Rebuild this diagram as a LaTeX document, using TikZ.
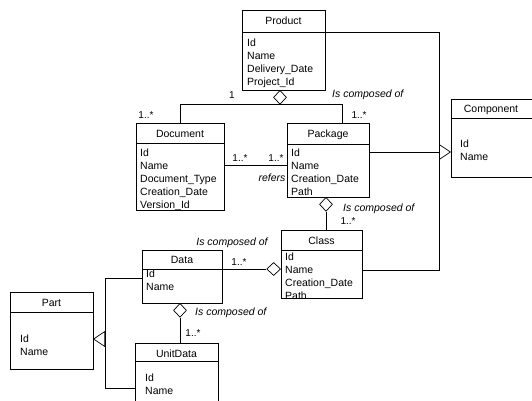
\documentclass[tikz,border=0pt]{standalone}
\usepackage{fontspec}
\setmainfont{Liberation Sans}
\usetikzlibrary{shapes.geometric,arrows.meta,calc}
\begin{document}
\begin{tikzpicture}[x=1pt,y=-1pt,
  cls/.style={draw, line width=0.7pt, anchor=north west, inner sep=0pt, outer sep=0pt},
  ttl/.style={font=\fontsize{10.5}{13}\selectfont, inner sep=0pt, anchor=base},
  att/.style={font=\fontsize{10.5}{13}\selectfont, align=left, anchor=north west, inner sep=0pt},
  mult/.style={font=\fontsize{10}{12}\selectfont, inner sep=0pt},
  lbl/.style={font=\fontsize{10.5}{13}\selectfont\itshape, inner sep=0pt},
  agg/.style={draw, diamond, aspect=1, minimum width=13pt, minimum height=14pt, inner sep=0pt, fill=white, line width=0.7pt},
  aggh/.style={draw, diamond, aspect=1, minimum width=14pt, minimum height=13pt, inner sep=0pt, fill=white, line width=0.7pt},
  conn/.style={line width=0.7pt},
  inh/.style={line width=0.7pt, -{Triangle[open,length=12pt,width=16pt]}}]

\useasboundingbox (0,0) rectangle (532,400);
\clip (0,0) rectangle (532,400);

% ---- Product
\node[cls, minimum width=83pt, minimum height=80pt] (product) at (242,10) {};
\draw[conn] (242,32) -- (325,32);
\node[ttl] (productT) at (283.5,24.8) {Product};
\node[att] (productA) at (247,38.2) {Id\\Name\\Delivery\_Date\\Project\_Id};

% ---- Document
\node[cls, minimum width=88pt, minimum height=87pt] (document) at (136,123) {};
\draw[conn] (136,143) -- (224,143);
\node[ttl] (documentT) at (180,137) {Document};
\node[att] (documentA) at (140,148.2) {Id\\Name\\Document\_Type\\Creation\_Date\\Version\_Id};

% ---- Package
\node[cls, minimum width=82pt, minimum height=74pt] (package) at (287,123) {};
\draw[conn] (287,144) -- (369,144);
\node[ttl] (packageT) at (328,137.8) {Package};
\node[att] (packageA) at (291,148.2) {Id\\Name\\Creation\_Date\\Path};

% ---- Component
\node[cls, minimum width=90pt, minimum height=78pt] (component) at (451,99) {};
\draw[conn] (451,118) -- (541,118);
\node[ttl] (componentT) at (491,112.8) {Component};
\node[att] (componentA) at (460,139.2) {Id\\Name};

% ---- Class
\node[cls, minimum width=81pt, minimum height=68pt] (class) at (281,230) {};
\draw[conn] (281,250) -- (362,250);
\node[ttl] (classT) at (321.5,244.5) {Class};
\node[att] (classA) at (285,252.2) {Id\\Name\\Creation\_Date\\Path};

% ---- Data
\node[cls, minimum width=80pt, minimum height=53pt] (data) at (142,250) {};
\draw[conn] (142,269) -- (222,269);
\node[ttl] (dataT) at (182,263.5) {Data};
\node[att] (dataA) at (146,269.2) {Id\\Name};

% ---- Part
\node[cls, minimum width=83pt, minimum height=77pt] (part) at (10,292) {};
\draw[conn] (10,312) -- (93,312);
\node[ttl] (partT) at (51.5,306) {Part};
\node[att] (partA) at (20,334.2) {Id\\Name};

% ---- UnitData
\node[cls, minimum width=83pt, minimum height=70pt] (unitdata) at (135,343) {};
\draw[conn] (135,361) -- (218,361);
\node[ttl] (unitdataT) at (176.5,357) {UnitData};
\node[att] (unitdataA) at (145,373.2) {Id\\Name};

% ---- Product composition
\node[agg, anchor=north] (d1) at (280,90) {};
\draw[conn] (document.north) |- (d1.south);
\draw[conn] (d1.south) -| ($(package.north)+(14,0)$);
\node[mult] (m1) at (232,95) {1};
\node[lbl, anchor=west] (l1) at (332,95) {Is composed of};
\node[mult] (m2) at (146,115) {1..*};
\node[mult] (m3) at (359,115) {1..*};

% ---- refers
\draw[conn] ($(document.north east)+(0,42)$) -- ($(package.north west)+(0,42)$);
\node[mult] (m4) at (240,158) {1..*};
\node[mult] (m5) at (276,158) {1..*};
\node[lbl] (l2) at (272,178) {refers};

% ---- Package - Class composition
\node[agg, anchor=north] (d2) at (326,197) {};
\draw[conn] (d2.south) -- (d2.south |- class.north);
\node[lbl, anchor=west] (l3) at (343,209) {Is composed of};
\node[mult] (m6) at (348,221) {1..*};

% ---- Component inheritance
\coordinate (h1) at (439,152);
\draw[inh] (h1) -- (component.west |- h1);
\draw[conn] ($(product.north east)+(0,22)$) -| (h1);
\draw[conn] (package.east |- h1) -- (h1);
\draw[conn] ($(class.north east)+(0,40)$) -| (h1);

% ---- Data - Class composition
\node[aggh, anchor=east] (d3) at ($(class.north west)+(0,39)$) {};
\draw[conn] (data.east |- d3) -- (d3.west);
\node[lbl] (l4) at (232,243) {Is composed of};
\node[mult] (m7) at (239,262) {1..*};

% ---- Data - UnitData composition
\node[agg, anchor=north] (d4) at (180,303) {};
\draw[conn] (d4.south) -- (d4.south |- unitdata.north);
\node[lbl, anchor=west] (l5) at (195,313) {Is composed of};
\node[mult] (m8) at (193,333) {1..*};

% ---- Part inheritance
\coordinate (h2) at (105,339);
\draw[inh] (h2) -- (part.east |- h2);
\draw[conn] ($(data.north west)+(0,28)$) -| (h2);
\draw[conn] ($(unitdata.north west)+(0,45)$) -| (h2);
\end{tikzpicture}
\end{document}
